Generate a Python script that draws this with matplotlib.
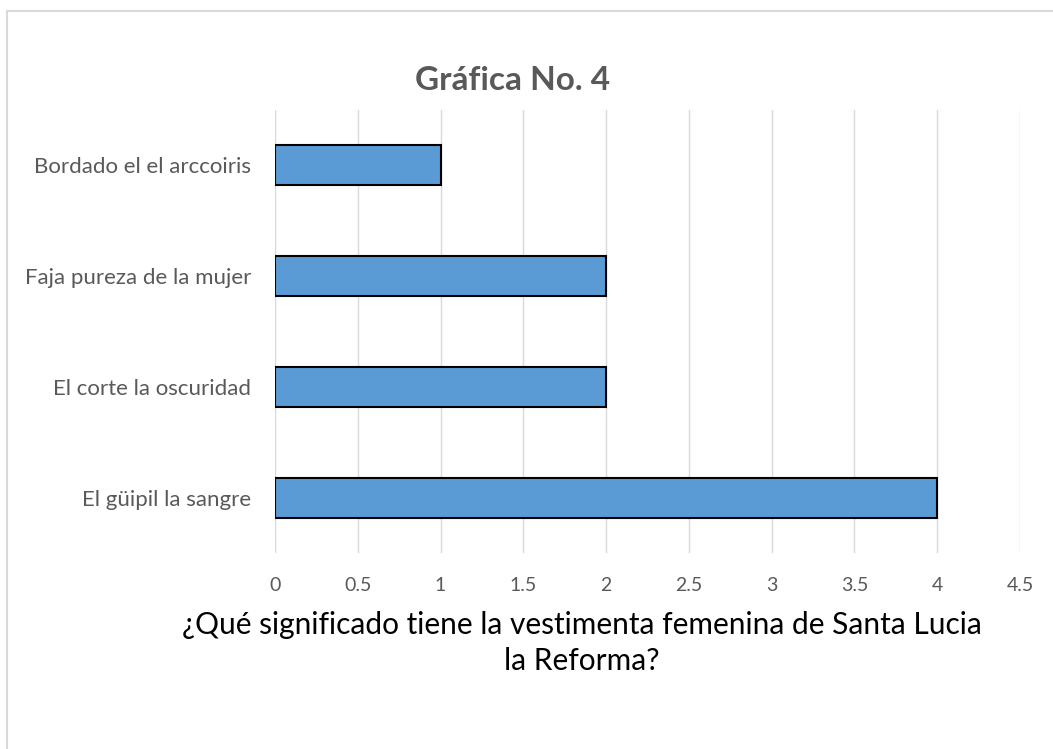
import matplotlib.pyplot as plt
from matplotlib.patches import Rectangle

categorias = ['El güipil la sangre', 'El corte la oscuridad',
              'Faja pureza de la mujer', 'Bordado el el arccoiris']
valores = [4, 2, 2, 1]
ticks_x = [0, 0.5, 1, 1.5, 2, 2.5, 3, 3.5, 4, 4.5]
etiquetas_x = ['0', '0.5', '1', '1.5', '2', '2.5', '3', '3.5', '4', '4.5']

plt.rcParams['font.family'] = ['Lato', 'DejaVu Sans']

fig = plt.figure(figsize=(10.53, 7.49), dpi=100)
ax = fig.add_axes([275 / 1053, 196 / 749, 745 / 1053, 443 / 749])

# marco del grafico (solo se ve arriba y a la izquierda)
fig.patches.append(Rectangle((7 / 1053, -0.1), 1.2, 1 - 11 / 749 + 0.1,
                             transform=fig.transFigure, fill=False,
                             edgecolor='#D9D9D9', linewidth=1.5))

ax.barh(range(len(categorias)), valores, height=0.36, color='#5B9BD5',
        edgecolor='black', linewidth=1.5, zorder=3)

ax.set_xlim(0, 4.5)
ax.set_ylim(-0.5, len(categorias) - 0.5)
ax.set_xticks(ticks_x)
ax.set_xticklabels(etiquetas_x, fontsize=14, color='#595959')
ax.set_yticks(range(len(categorias)))
ax.set_yticklabels(categorias, fontsize=16, color='#595959')
ax.tick_params(axis='both', length=0)
ax.tick_params(axis='x', pad=17)
ax.tick_params(axis='y', pad=17)
ax.grid(axis='x', color='#D9D9D9', linewidth=1, zorder=0)
for s in ax.spines.values():
    s.set_visible(False)

fig.text(513 / 1053, 1 - 80 / 749, 'Gráfica No. 4', ha='center', va='center',
         fontsize=24, fontweight='bold', color='#595959')
fig.text(582 / 1053, 1 - 643 / 749,
         '¿Qué significado tiene la vestimenta femenina de Santa Lucia\nla Reforma?',
         ha='center', va='center', fontsize=21.5, color='black', linespacing=1.35)

plt.savefig('out.png', dpi=100)
plt.close()
